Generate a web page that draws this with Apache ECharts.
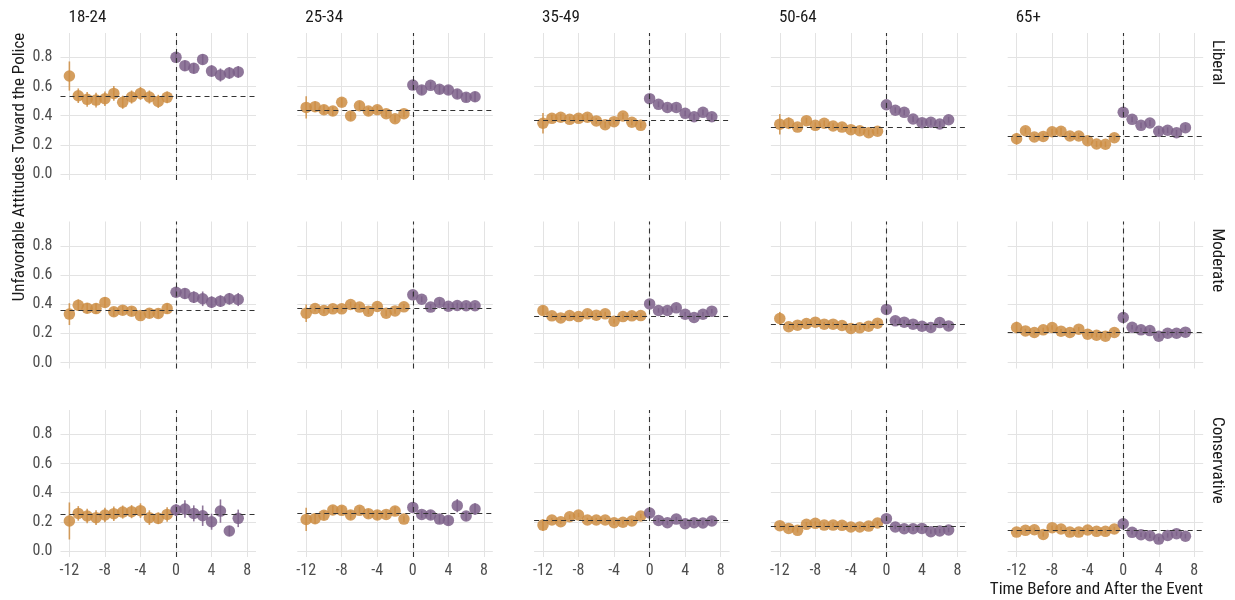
<!DOCTYPE html>
<html><head><meta charset="utf-8">
<script src="https://cdn.jsdelivr.net/npm/echarts@6/dist/echarts.min.js"></script>
<style>html,body{margin:0;padding:0;background:#fff}#c{width:1235px;height:600px}</style>
</head><body><div id="c"></div>
<script>
// ---------- DATA ----------
const ages = ['18-24', '25-34', '35-49', '50-64', '65+'];
const ideologies = ['Liberal', 'Moderate', 'Conservative'];
const periods = [-12,-11,-10,-9,-8,-7,-6,-5,-4,-3,-2,-1,0,1,2,3,4,5,6,7];
const xTicks = [-12, -8, -4, 0, 4, 8];
const yTicks = [0, 0.2, 0.4, 0.6, 0.8];
const yTickLabels = ['0.0', '0.2', '0.4', '0.6', '0.8'];
const yAxisTitle = 'Unfavorable Attitudes Toward the Police';
const xAxisTitle = 'Time Before and After the Event';

// Liberal
const meanLib1824 = [0.672,0.537,0.512,0.507,0.516,0.553,0.492,0.528,0.553,0.528,0.498,0.526, 0.800,0.743,0.725,0.786,0.706,0.679,0.693,0.700];
const errLib1824  = [0.100,0.050,0.050,0.050,0.050,0.050,0.045,0.045,0.045,0.045,0.045,0.040, 0.030,0.035,0.035,0.035,0.040,0.045,0.040,0.040];
const meanLib2534 = [0.457,0.462,0.441,0.432,0.492,0.398,0.468,0.432,0.441,0.414,0.379,0.414, 0.610,0.576,0.608,0.581,0.576,0.549,0.526,0.530];
const errLib2534  = [0.077,0.035,0.030,0.030,0.030,0.030,0.030,0.025,0.025,0.025,0.025,0.025, 0.030,0.030,0.025,0.030,0.030,0.030,0.030,0.035];
const meanLib3549 = [0.348,0.382,0.389,0.375,0.382,0.389,0.364,0.338,0.359,0.398,0.355,0.334, 0.517,0.478,0.457,0.457,0.416,0.393,0.423,0.393];
const errLib3549  = [0.070,0.025,0.025,0.020,0.025,0.025,0.020,0.020,0.020,0.020,0.020,0.020, 0.020,0.020,0.020,0.020,0.020,0.020,0.020,0.020];
const meanLib5064 = [0.341,0.348,0.322,0.366,0.334,0.348,0.329,0.322,0.304,0.297,0.283,0.293, 0.475,0.437,0.423,0.377,0.352,0.355,0.343,0.372];
const errLib5064  = [0.070,0.040,0.020,0.020,0.020,0.020,0.020,0.020,0.020,0.020,0.020,0.020, 0.020,0.020,0.020,0.020,0.020,0.020,0.020,0.020];
const meanLib65   = [0.242,0.297,0.254,0.258,0.290,0.293,0.261,0.261,0.228,0.206,0.204,0.249, 0.423,0.375,0.334,0.350,0.293,0.300,0.283,0.318];
const errLib65    = [0.040,0.020,0.020,0.020,0.020,0.025,0.020,0.020,0.020,0.020,0.020,0.020, 0.020,0.020,0.020,0.020,0.020,0.020,0.020,0.020];
const baseLib = [0.528, 0.437, 0.370, 0.324, 0.256];

// Moderate
const meanMod1824 = [0.332,0.393,0.373,0.370,0.412,0.348,0.359,0.352,0.322,0.338,0.336,0.370, 0.482,0.473,0.448,0.437,0.414,0.421,0.437,0.432];
const errMod1824  = [0.075,0.040,0.035,0.035,0.035,0.030,0.030,0.030,0.025,0.030,0.030,0.035, 0.035,0.035,0.040,0.050,0.040,0.040,0.040,0.045];
const meanMod2534 = [0.338,0.370,0.357,0.368,0.368,0.398,0.380,0.352,0.384,0.338,0.354,0.382, 0.464,0.434,0.380,0.412,0.386,0.391,0.389,0.389];
const errMod2534  = [0.060,0.020,0.020,0.020,0.020,0.020,0.020,0.020,0.020,0.020,0.020,0.020, 0.020,0.020,0.020,0.020,0.020,0.020,0.020,0.020];
const meanMod3549 = [0.357,0.320,0.306,0.322,0.315,0.334,0.325,0.334,0.283,0.315,0.320,0.322, 0.402,0.357,0.357,0.375,0.331,0.309,0.331,0.352];
const errMod3549  = [0.030,0.015,0.015,0.015,0.015,0.015,0.015,0.015,0.015,0.015,0.015,0.015, 0.015,0.015,0.015,0.015,0.015,0.015,0.015,0.015];
const meanMod5064 = [0.302,0.245,0.256,0.267,0.277,0.263,0.263,0.254,0.233,0.238,0.249,0.270, 0.364,0.286,0.277,0.263,0.249,0.240,0.274,0.251];
const errMod5064  = [0.045,0.015,0.015,0.015,0.015,0.015,0.015,0.015,0.015,0.015,0.015,0.015, 0.015,0.015,0.015,0.015,0.015,0.015,0.015,0.015];
const meanMod65   = [0.240,0.217,0.206,0.224,0.240,0.215,0.206,0.229,0.194,0.187,0.181,0.206, 0.309,0.242,0.224,0.219,0.181,0.201,0.201,0.208];
const errMod65    = [0.040,0.015,0.015,0.015,0.015,0.015,0.015,0.015,0.015,0.015,0.015,0.015, 0.015,0.015,0.015,0.015,0.015,0.015,0.015,0.015];
const baseMod = [0.361, 0.370, 0.320, 0.258, 0.210];

// Conservative
const meanCon1824 = [0.206,0.258,0.240,0.229,0.247,0.256,0.267,0.270,0.277,0.229,0.224,0.251, 0.281,0.288,0.258,0.242,0.201,0.274,0.137,0.224];
const errCon1824  = [0.127,0.050,0.050,0.050,0.050,0.050,0.045,0.045,0.050,0.050,0.040,0.050, 0.040,0.060,0.055,0.070,0.055,0.080,0.035,0.060];
const meanCon2534 = [0.217,0.222,0.245,0.281,0.279,0.247,0.279,0.256,0.247,0.251,0.274,0.219, 0.299,0.251,0.247,0.219,0.210,0.311,0.240,0.288];
const errCon2534  = [0.080,0.035,0.030,0.030,0.030,0.030,0.025,0.030,0.030,0.025,0.030,0.020, 0.030,0.025,0.030,0.030,0.030,0.045,0.030,0.040];
const meanCon3549 = [0.178,0.213,0.201,0.235,0.247,0.213,0.213,0.213,0.194,0.197,0.206,0.240, 0.261,0.210,0.194,0.219,0.187,0.194,0.192,0.206];
const errCon3549  = [0.040,0.015,0.015,0.015,0.015,0.015,0.015,0.015,0.015,0.015,0.015,0.015, 0.015,0.015,0.015,0.015,0.015,0.015,0.015,0.015];
const meanCon5064 = [0.174,0.155,0.142,0.183,0.190,0.178,0.178,0.176,0.165,0.165,0.171,0.192, 0.222,0.165,0.153,0.153,0.155,0.133,0.137,0.144];
const errCon5064  = [0.015,0.015,0.015,0.015,0.015,0.015,0.015,0.015,0.015,0.015,0.015,0.015, 0.015,0.015,0.015,0.015,0.015,0.015,0.015,0.015];
const meanCon65   = [0.130,0.142,0.146,0.114,0.160,0.151,0.130,0.130,0.144,0.135,0.135,0.151, 0.187,0.128,0.112,0.105,0.082,0.107,0.119,0.101];
const errCon65    = [0.015,0.015,0.015,0.015,0.015,0.015,0.015,0.015,0.015,0.015,0.015,0.015, 0.015,0.015,0.015,0.015,0.015,0.015,0.015,0.015];
const baseCon = [0.251, 0.258, 0.210, 0.169, 0.139];

const panelMeans = [
  [meanLib1824, meanLib2534, meanLib3549, meanLib5064, meanLib65],
  [meanMod1824, meanMod2534, meanMod3549, meanMod5064, meanMod65],
  [meanCon1824, meanCon2534, meanCon3549, meanCon5064, meanCon65]
];
const panelErrs = [
  [errLib1824, errLib2534, errLib3549, errLib5064, errLib65],
  [errMod1824, errMod2534, errMod3549, errMod5064, errMod65],
  [errCon1824, errCon2534, errCon3549, errCon5064, errCon65]
];
const panelBase = [baseLib, baseMod, baseCon];

// ---------- STYLE / LAYOUT ----------
const FONT = "'Roboto Condensed', 'Liberation Sans Narrow', 'DejaVu Sans Condensed', sans-serif";
const PRE = '#cc8d43';
const POST = '#7b5f88';
const colLeft0 = 60.5, colStep = 236.8, panelW = 195.5;
const rowTop0 = 33, rowStep = 188.5, panelH = 147;

const grids = [], xAxes = [], yAxes = [], series = [], graphics = [];
let gi = 0;
for (let r = 0; r < 3; r++) {
  for (let c = 0; c < 5; c++) {
    const left = colLeft0 + c * colStep;
    const top = rowTop0 + r * rowStep;
    grids.push({ left: left, top: top, width: panelW, height: panelH, containLabel: false });
    xAxes.push({
      gridIndex: gi, type: 'value', min: -13, max: 9,
      axisLine: { show: false }, axisTick: { show: false, customValues: xTicks },
      axisLabel: { show: r === 2, customValues: xTicks, color: '#4d4d4d', fontSize: 16, fontFamily: FONT, margin: 6 },
      splitLine: { show: true, lineStyle: { color: '#e3e3e3', width: 1 } }
    });
    yAxes.push({
      gridIndex: gi, type: 'value', min: -0.041, max: 0.967,
      axisLine: { show: false }, axisTick: { show: false, customValues: yTicks },
      axisLabel: { show: c === 0, customValues: yTicks, color: '#4d4d4d', fontSize: 16, fontFamily: FONT, margin: 8,
        formatter: v => yTickLabels[yTicks.indexOf(Math.round(v * 10) / 10)] },
      splitLine: { show: true, lineStyle: { color: '#e3e3e3', width: 1 } }
    });
    const means = panelMeans[r][c], errs = panelErrs[r][c];
    const ebData = periods.map((p, k) => [p, means[k], errs[k]]);
    series.push({
      type: 'custom', xAxisIndex: gi, yAxisIndex: gi, data: ebData, silent: true, z: 2,
      renderItem: function (params, api) {
        const x = api.value(0), m = api.value(1), e = api.value(2);
        const p1 = api.coord([x, m - e]), p2 = api.coord([x, m + e]);
        return { type: 'line', shape: { x1: p1[0], y1: p1[1], x2: p2[0], y2: p2[1] },
          style: { stroke: x < 0 ? PRE : POST, lineWidth: 1.6, opacity: 0.85 } };
      }
    });
    series.push({
      type: 'scatter', xAxisIndex: gi, yAxisIndex: gi, symbolSize: 11.5, z: 3, silent: true,
      data: periods.map((p, k) => [p, means[k]]).filter(d => d[0] < 0),
      itemStyle: { color: PRE, opacity: 0.85 },
      markLine: {
        silent: true, symbol: 'none', label: { show: false },
        lineStyle: { color: '#333', type: [5, 4], width: 1.1 },
        data: [{ yAxis: panelBase[r][c] }, { xAxis: 0 }]
      }
    });
    series.push({
      type: 'scatter', xAxisIndex: gi, yAxisIndex: gi, symbolSize: 11.5, z: 3, silent: true,
      data: periods.map((p, k) => [p, means[k]]).filter(d => d[0] >= 0),
      itemStyle: { color: POST, opacity: 0.85 }
    });
    gi++;
  }
}

// column strips
ages.forEach((a, c) => {
  graphics.push({ type: 'text', x: colLeft0 + c * colStep + 8, y: 18,
    style: { text: a, fill: '#1a1a1a', font: '17px ' + FONT, textAlign: 'left', textVerticalAlign: 'middle' } });
});
// row strips
ideologies.forEach((t, r) => {
  graphics.push({ type: 'text', x: 1209, y: rowTop0 + r * rowStep + 7, rotation: -Math.PI / 2,
    style: { text: t, fill: '#1a1a1a', font: '17px ' + FONT, textAlign: 'left', textVerticalAlign: 'bottom' } });
});
graphics.push({ type: 'text', x: 20, y: 167, rotation: Math.PI / 2,
  style: { text: yAxisTitle, fill: '#1a1a1a', font: '17px ' + FONT, textAlign: 'center', textVerticalAlign: 'middle' } });
graphics.push({ type: 'text', x: 1203, y: 590,
  style: { text: xAxisTitle, fill: '#1a1a1a', font: '17px ' + FONT, textAlign: 'right', textVerticalAlign: 'middle' } });

const chart = echarts.init(document.getElementById('c'), null, { renderer: 'canvas' });
chart.setOption({
  animation: false,
  backgroundColor: '#ffffff',
  grid: grids, xAxis: xAxes, yAxis: yAxes, series: series, graphic: graphics
});
</script></body></html>
